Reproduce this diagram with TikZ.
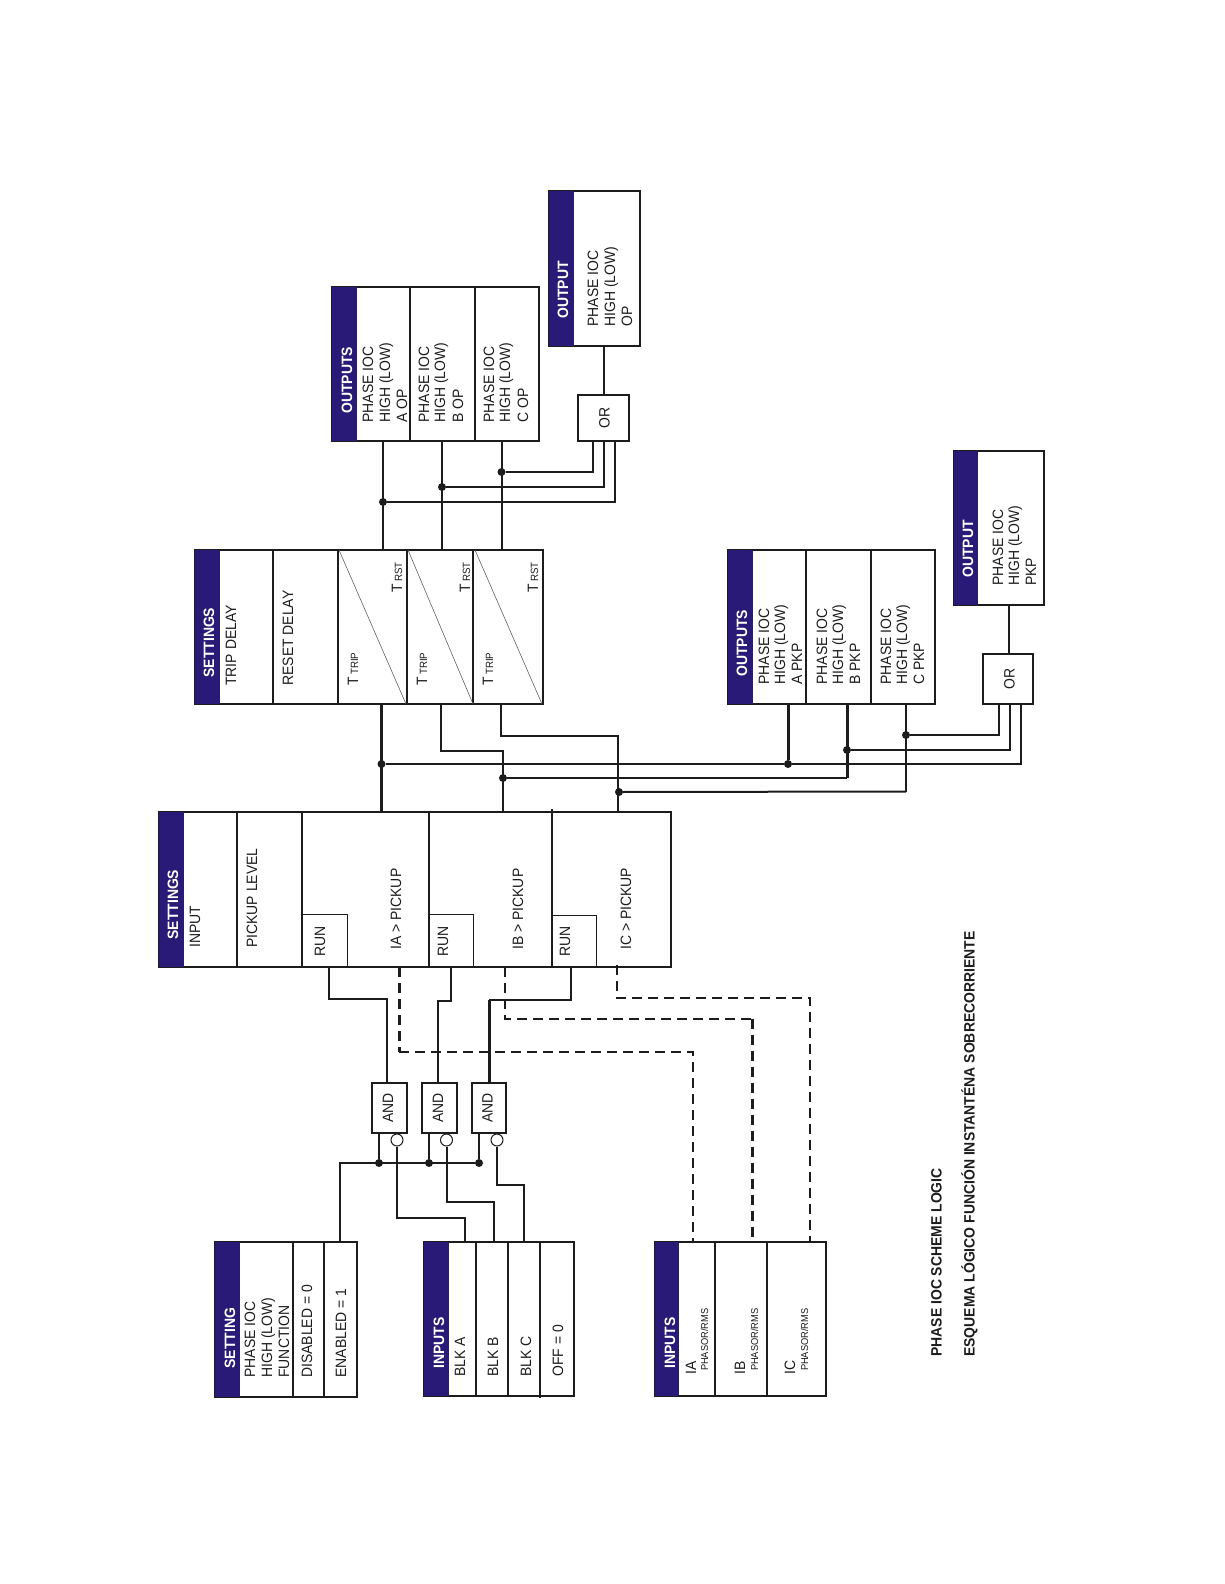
\documentclass[tikz,border=0pt]{standalone}
\usepackage{fontspec}
\setmainfont[FakeStretch=0.93]{Liberation Sans}
\definecolor{band}{HTML}{2A1A78}
\definecolor{ink}{HTML}{1C1C1C}
\newcounter{tn}
\newcommand{\fsz}{\fontsize{15}{17}\selectfont}
\newcommand{\fhd}{\fontsize{15}{17}\selectfont\bfseries\color{white}}
\newcommand{\fsm}{\fontsize{10.5}{12}\selectfont}
\newcommand{\fps}{\fontsize{10}{12}\selectfont}
\newcommand{\ftt}{\fontsize{15}{17}\selectfont\bfseries}
% rotated label: baseline x, start y, font, text
\newcommand{\lb}[4]{\stepcounter{tn}\node[lab] (t\arabic{tn}) at (#1,#2+4.5) {#3 #4};}
\newcommand{\lh}[3]{\stepcounter{tn}\node[lab] (t\arabic{tn}) at (#1,#2+1.5) {\fhd #3};}
% blue heading band: x1,y1,x2,y2
\newcommand{\hb}[4]{\fill[band] (#1,#2) rectangle (#3,#4);}
\newcommand{\bx}[6]{\node[box,minimum width=#4pt,minimum height=#5pt,#6] (#1) at (#2,#3) {};}
\tikzset{
  lab/.style={rotate=90,anchor=base west,inner sep=0pt,outer sep=0pt,text=ink},
  box/.style={draw=ink,line width=2pt,anchor=north west,inner sep=0pt,outer sep=0pt,fill=white},
  div/.style={draw=ink,line width=2pt},
  thin/.style={draw=ink,line width=0.7pt},
  diag/.style={draw=ink!70,line width=0.6pt},
  wire/.style={draw=ink,line width=2pt},
  fat/.style={draw=ink,line width=3pt},
  dash1/.style={draw=ink,line width=1.7pt,dash pattern=on 10pt off 6pt},
  dash2/.style={draw=ink,line width=3pt,dash pattern=on 10pt off 6pt},
  dot/.style={circle,fill=ink,inner sep=0pt,minimum size=8pt},
  bub/.style={circle,draw=ink,fill=white,line width=1pt,inner sep=0pt,minimum size=12pt},
  gate/.style={draw=ink,line width=2pt,anchor=north west,inner sep=0pt,outer sep=0pt,fill=white}
}
\begin{document}
\begin{tikzpicture}[x=1pt,y=-1pt]
\useasboundingbox (0,0) rectangle (1224,1584);
\fill[white] (0,0) rectangle (1224,1584);

%% ===== boxes =====
% OUTPUT OP
\bx{boxOutOP}{549}{191}{91}{155}{}
\hb{549}{191}{574}{346}
% OUTPUTS OP
\bx{boxOutsOP}{332}{287}{207}{154}{}
\hb{332}{287}{357}{441}
\draw[div] (410,287) -- (410,441);
\draw[div] (475,287) -- (475,441);
% SETTINGS TIMER
\bx{boxTimer}{195}{550}{348}{154}{}
\hb{195}{550}{220}{704}
\draw[div] (273,550) -- (273,704);
\draw[div] (338,550) -- (338,704);
\draw[div] (407,550) -- (407,704);
\draw[div] (473,550) -- (473,704);
\draw[diag] (339,550) -- (406,704);
\draw[diag] (408,550) -- (473,704);
\draw[diag] (475,550) -- (542,704);
% OUTPUTS PKP
\bx{boxOutsPK}{728}{550}{207}{154}{}
\hb{728}{550}{753}{704}
\draw[div] (806,550) -- (806,704);
\draw[div] (871,550) -- (871,704);
% OUTPUT PKP
\bx{boxOutPK}{954}{451}{90}{154}{}
\hb{954}{451}{978}{605}
% SETTINGS PICKUP
\bx{boxPick}{159}{812}{512}{155}{}
\hb{159}{812}{184}{967}
\draw[div] (237,812) -- (237,967);
\draw[div] (302,812) -- (302,967);
\draw[div] (428.5,812) -- (428.5,967);
\draw[div] (552,809) -- (552,967);
\draw[thin] (302,914) -| (347.5,967);
\draw[thin] (428.5,914) -| (473,967);
\draw[thin] (552,915) -| (596,967);
% SETTING FUNCTION
\bx{boxFunc}{215}{1242}{142}{155}{}
\hb{215}{1242}{240}{1397}
\draw[div] (293,1242) -- (293,1397);
\draw[div] (324,1242) -- (324,1397);
% INPUTS BLK
\bx{boxBlk}{424}{1242}{150}{154}{}
\hb{424}{1242}{449}{1396}
\draw[div] (476,1242) -- (476,1396);
\draw[div] (508,1242) -- (508,1396);
\draw[div] (540,1242) -- (540,1398);
% INPUTS I
\bx{boxCur}{655}{1242}{171}{154}{}
\hb{655}{1242}{679}{1396}
\draw[div] (715,1242) -- (715,1396);
\draw[div] (767,1242) -- (767,1396);

%% ===== gates =====
\node[gate,minimum width=51pt,minimum height=46.5pt] (orOP) at (578,394.5) {};
\node[gate,minimum width=50pt,minimum height=50pt] (orPK) at (983,654) {};
\node[gate,minimum width=35pt,minimum height=50pt] (andA) at (372,1083) {};
\node[gate,minimum width=35pt,minimum height=50pt] (andB) at (422,1083) {};
\node[gate,minimum width=34pt,minimum height=50pt] (andC) at (472,1083) {};
\node[bub] (bubA) at (397,1140) {};
\node[bub] (bubB) at (446.5,1140) {};
\node[bub] (bubC) at (497,1140) {};

%% ===== junctions =====
\node[dot] (jOA) at (383,502) {};
\node[dot] (jOB) at (442,487) {};
\node[dot] (jOC) at (501.5,472) {};
\node[dot] (jPA) at (381.5,764) {};
\node[dot] (jPB) at (503,778) {};
\node[dot] (jPC) at (619,792) {};
\node[dot] (jQA) at (788,764) {};
\node[dot] (jQB) at (847,750) {};
\node[dot] (jQC) at (906,735) {};
\node[dot] (jEA) at (379,1163) {};
\node[dot] (jEB) at (429,1163) {};
\node[dot] (jEC) at (479,1163) {};

%% ===== pin coordinates =====
\coordinate (opout) at (604,346);  \coordinate (oro) at (604,394.5);
\coordinate (ori1) at (593,441); \coordinate (ori2) at (604,441); \coordinate (ori3) at (615,441);
\coordinate (oa1) at (383,441); \coordinate (oa2) at (383,550);
\coordinate (ob1) at (442,441); \coordinate (ob2) at (442,550);
\coordinate (oc1) at (502,441); \coordinate (oc2) at (502,550);
\coordinate (pkout) at (1009,605); \coordinate (pko) at (1009,654);
\coordinate (pki1) at (999,704); \coordinate (pki2) at (1010,704); \coordinate (pki3) at (1021,704);
\coordinate (qa) at (788,704); \coordinate (qb) at (847,704); \coordinate (qc) at (906,704);
\coordinate (ta) at (381.5,704); \coordinate (tb) at (441,704); \coordinate (tc) at (501,704);
\coordinate (sa) at (381.5,812); \coordinate (sb) at (503,812); \coordinate (sc) at (618,812);
\coordinate (bendB) at (503,751); \coordinate (bendC) at (618,736);
\coordinate (qbend) at (847,778); \coordinate (qcend) at (906,791.5);
\coordinate (ra) at (328.5,967); \coordinate (rb) at (451,967); \coordinate (rc) at (571,967);
\coordinate (aa) at (387,1083); \coordinate (ab) at (438,1083); \coordinate (ac) at (489,1083);
\coordinate (la) at (379,1133); \coordinate (lb) at (429,1133); \coordinate (lc) at (479,1133);
\coordinate (en) at (340,1242); \coordinate (enT) at (340,1163);
\coordinate (ba) at (465,1242); \coordinate (bb) at (494,1242); \coordinate (bc) at (524,1242);
\coordinate (pa) at (399,967); \coordinate (pb) at (505,967); \coordinate (pc) at (617,965);
\coordinate (ia) at (693,1242); \coordinate (ib) at (752,1242); \coordinate (ic) at (810,1242);

%% ===== connectors =====
\draw[wire] (opout) -- (oro);
\draw[wire] (oa1) -- (oa2);
\draw[wire] (ob1) -- (ob2);
\draw[wire] (oc1) -- (oc2);
\draw[wire] (ori1) |- (jOC);
\draw[wire] (ori2) |- (jOB);
\draw[wire] (ori3) |- (jOA);

\draw[wire] (pkout) -- (pko);
\draw[fat] (qa) -- (jQA);
\draw[fat] (qb) -- (qbend);
\draw[wire] (qc) -- (qcend);
\draw[wire] (pki1) |- (jQC);
\draw[wire] (pki2) |- (jQB);
\draw[wire] (pki3) |- (jQA);
\draw[wire] (jPA) -- (jQA);
\draw[wire] (jPB) -- (qbend);
\draw[wire] (jPC) -- (qcend);

\draw[fat] (ta) -- (sa);
\draw[wire] (tb) |- (bendB) -- (sb);
\draw[wire] (tc) |- (bendC) -- (sc);

\draw[wire] (ra) -- ++(0,32) -| (aa);
\draw[wire] (rb) -- ++(0,34) -| (ab);
\draw[wire] (rc) -- ++(0,33) -- (ac |- 0,1000);
\draw[fat] (ac |- 0,1000) -- (ac);

\draw[wire] (la) -- (jEA);
\draw[wire] (lb) -- (jEB);
\draw[wire] (lc) -- (jEC);
\draw[wire] (en) -- (enT) -- (jEC);

\draw[wire] (bubA) -- ++(0,78) -| (ba);
\draw[wire] (bubB) -- ++(0,62) -| (bb);
\draw[wire] (bubC) -- ++(0,45) -| (bc);

\draw[dash2] (pa) -- (pa |- 0,1052);
\draw[dash1] (pa |- 0,1052) -| (ia);
\draw[dash1] (pb) -- (pb |- 0,1019) -- (ib |- 0,1019);
\draw[dash2] (ib |- 0,1019) -- (ib);
\draw[dash1] (pc) |- (ic |- 0,998) -- (ic);

%% ===== gate texts =====
\node[rotate=90,text=ink] (lblOrOP) at ([xshift=1pt]orOP.center) {\fsz OR};
\node[rotate=90,text=ink] (lblOrPK) at ([xshift=1.5pt]orPK.center) {\fsz OR};
\node[rotate=90,text=ink] (lblAndA) at ([xshift=-1.5pt]andA.center) {\fsz AND};
\node[rotate=90,text=ink] (lblAndB) at ([xshift=-1.5pt]andB.center) {\fsz AND};
\node[rotate=90,text=ink] (lblAndC) at ([xshift=-1.5pt]andC.center) {\fsz AND};

%% ===== box texts =====
\lh{568}{317}{OUTPUT}
\lb{598}{326}{\fsz}{PHASE IOC}
\lb{615}{326}{\fsz}{HIGH (LOW)}
\lb{632}{326}{\fsz}{OP}

\lh{352}{412}{OUTPUTS}
\lb{373}{422}{\fsz}{PHASE IOC}
\lb{390}{422}{\fsz}{HIGH (LOW)}
\lb{407}{422}{\fsz}{A OP}
\lb{429}{422}{\fsz}{PHASE IOC}
\lb{445}{422}{\fsz}{HIGH (LOW)}
\lb{463}{422}{\fsz}{B OP}
\lb{494}{422}{\fsz}{PHASE IOC}
\lb{510}{422}{\fsz}{HIGH (LOW)}
\lb{528}{422}{\fsz}{C OP}

\lh{214}{676}{SETTINGS}
\lb{236}{685}{\fsz}{TRIP DELAY}
\lb{293}{685}{\fsz}{RESET DELAY}
\lb{358}{685}{\fsz}{T}
\lb{358}{673}{\fsm}{TRIP}
\lb{427}{685}{\fsz}{T}
\lb{427}{673}{\fsm}{TRIP}
\lb{493}{685}{\fsz}{T}
\lb{493}{673}{\fsm}{TRIP}
\lb{402}{592}{\fsz}{T}
\lb{402}{580}{\fsm}{RST}
\lb{470}{592}{\fsz}{T}
\lb{470}{580}{\fsm}{RST}
\lb{538}{592}{\fsz}{T}
\lb{538}{580}{\fsm}{RST}

\lh{747}{675}{OUTPUTS}
\lb{769}{684}{\fsz}{PHASE IOC}
\lb{785}{684}{\fsz}{HIGH (LOW)}
\lb{802}{684}{\fsz}{A PKP}
\lb{827}{684}{\fsz}{PHASE IOC}
\lb{843}{684}{\fsz}{HIGH (LOW)}
\lb{860}{684}{\fsz}{B PKP}
\lb{891}{684}{\fsz}{PHASE IOC}
\lb{907}{684}{\fsz}{HIGH (LOW)}
\lb{924}{684}{\fsz}{C PKP}

\lh{973}{576}{OUTPUT}
\lb{1003}{585}{\fsz}{PHASE IOC}
\lb{1019}{585}{\fsz}{HIGH (LOW)}
\lb{1036}{585}{\fsz}{PKP}

\lh{178}{938}{SETTINGS}
\lb{200}{947}{\fsz}{INPUT}
\lb{257}{947}{\fsz}{PICKUP LEVEL}
\lb{325}{956}{\fsz}{RUN}
\lb{448}{956}{\fsz}{RUN}
\lb{570}{956}{\fsz}{RUN}
\lb{401}{949}{\fsz}{IA > PICKUP}
\lb{523}{949}{\fsz}{IB > PICKUP}
\lb{631}{949}{\fsz}{IC > PICKUP}

\lh{235}{1367}{SETTING}
\lb{255}{1377}{\fsz}{PHASE IOC}
\lb{272}{1377}{\fsz}{HIGH (LOW)}
\lb{289}{1377}{\fsz}{FUNCTION}
\lb{312}{1377}{\fsz}{DISABLED = 0}
\lb{346}{1377}{\fsz}{ENABLED = 1}

\lh{444}{1367}{INPUTS}
\lb{465}{1376}{\fsz}{BLK A}
\lb{498}{1376}{\fsz}{BLK B}
\lb{531}{1376}{\fsz}{BLK C}
\lb{563}{1376}{\fsz}{OFF = 0}

\lh{675}{1367}{INPUTS}
\lb{696}{1374}{\fsz}{IA}
\lb{708}{1369}{\fps}{PHASOR/RMS}
\lb{745}{1374}{\fsz}{IB}
\lb{758}{1369}{\fps}{PHASOR/RMS}
\lb{795}{1374}{\fsz}{IC}
\lb{808}{1369}{\fps}{PHASOR/RMS}

\lb{941.5}{1356}{\ftt}{PHASE IOC SCHEME LOGIC}
\lb{974.5}{1356}{\ftt}{ESQUEMA LÓGICO FUNCIÓN INSTANTÉNA SOBRECORRIENTE}
\end{tikzpicture}
\end{document}
